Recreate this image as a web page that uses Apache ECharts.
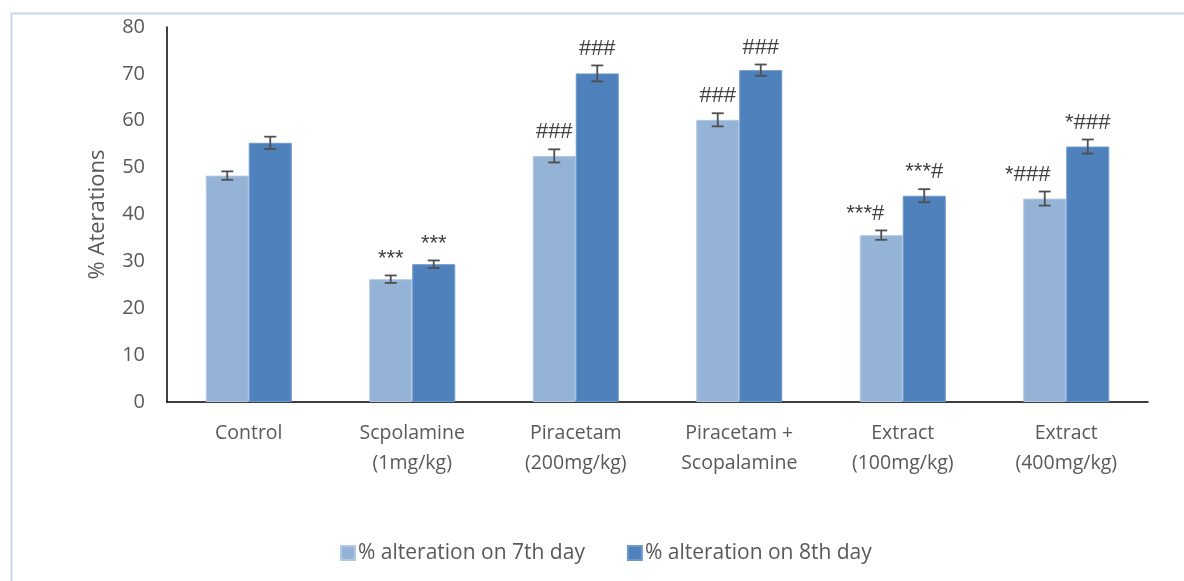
<!DOCTYPE html>
<html>
<head>
<meta charset="utf-8">
<script src="https://cdn.jsdelivr.net/npm/echarts@6/dist/echarts.min.js"></script>
<style>
html,body{margin:0;padding:0;background:#fff;}
#chart{width:1184px;height:581px;}
</style>
</head>
<body>
<div id="chart"></div>
<script>
const categories = ["Control", "Scpolamine\n(1mg/kg)", "Piracetam\n(200mg/kg)", "Piracetam +\nScopalamine", "Extract\n(100mg/kg)", "Extract\n(400mg/kg)"];
const seriesNames = ["% alteration on 7th day", "% alteration on 8th day"];
const day7 = [48.3, 26.2, 52.5, 60.2, 35.6, 43.4];
const day8 = [55.3, 29.4, 70.1, 70.8, 44.0, 54.5];
const day7Err = [0.9, 0.8, 1.4, 1.4, 1.0, 1.5];
const day8Err = [1.3, 0.8, 1.7, 1.2, 1.4, 1.5];
const day7Sig = ["", "***", "###", "###", "***#", "*###"];
const day8Sig = ["", "***", "###", "###", "***#", "*###"];
const yTicks = [0, 10, 20, 30, 40, 50, 60, 70, 80];

const colors = ['#95b3d7', '#4f81bd'];
const catGap = 0.474;
// horizontal nudge of significance labels (layout only), per series per category
const sigShift = [[0, 0, 0, 0, -16, -17], [0, 0, 0, 0, 0, 0]];

function errSeries(seriesIdx, vals, errs, sigs) {
  return {
    type: 'custom',
    z: 10,
    silent: true,
    data: vals.map((v, i) => [i, v, errs[i], sigs[i]]),
    encode: { x: 0, y: 1 },
    renderItem: function (params, api) {
      const idx = api.value(0);
      const v = api.value(1);
      const e = api.value(2);
      const sig = sigs[idx];
      const c = api.coord([idx, v]);
      const band = api.size([1, 0])[0];
      const bw = band * (1 - catGap) / 2;
      const cx = c[0] + (seriesIdx === 0 ? -bw / 2 : bw / 2);
      const yTop = api.coord([idx, v + e])[1];
      const yBot = api.coord([idx, v - e])[1];
      const cap = 6;
      const ls = { stroke: '#505050', lineWidth: 1.8 };
      const children = [
        { type: 'line', shape: { x1: cx, y1: yTop, x2: cx, y2: yBot }, style: ls },
        { type: 'line', shape: { x1: cx - cap, y1: yTop, x2: cx + cap, y2: yTop }, style: ls },
        { type: 'line', shape: { x1: cx - cap, y1: yBot, x2: cx + cap, y2: yBot }, style: ls }
      ];
      if (sig) {
        children.push({
          type: 'text',
          style: {
            text: sig,
            x: cx + sigShift[seriesIdx][idx],
            y: yTop - 6,
            align: 'center',
            verticalAlign: 'bottom',
            fontFamily: 'Liberation Sans',
            fontSize: 22,
            fill: '#404040'
          }
        });
      }
      return { type: 'group', children: children };
    }
  };
}

const chart = echarts.init(document.getElementById('chart'));
chart.setOption({
  animation: false,
  backgroundColor: '#ffffff',
  textStyle: { fontFamily: 'Open Sans' },
  graphic: [{
    type: 'rect',
    left: 9, top: 11,
    shape: { width: 1200, height: 620 },
    style: { fill: 'none', stroke: '#c6d6ec', lineWidth: 2 },
    silent: true
  }],
  grid: { left: 167, right: 36, top: 27, bottom: 179, containLabel: false },
  legend: {
    data: seriesNames,
    left: 335,
    top: 537,
    itemWidth: 14,
    itemHeight: 14,
    itemGap: 42,
    icon: 'rect',
    textStyle: { color: '#595959', fontSize: 21, fontFamily: 'Open Sans', lineHeight: 22, padding: [0, 0, 0, -2] }
  },
  xAxis: {
    type: 'category',
    data: categories,
    axisLine: { lineStyle: { color: '#000', width: 1.5 } },
    axisTick: { show: false },
    axisLabel: { color: '#595959', fontSize: 19.5, lineHeight: 30, margin: 16, interval: 0, fontFamily: 'Open Sans' }
  },
  yAxis: {
    type: 'value',
    min: yTicks[0],
    max: yTicks[yTicks.length - 1],
    interval: 10,
    name: '% Aterations',
    nameLocation: 'middle',
    nameGap: 58,
    nameRotate: 90,
    nameTextStyle: { color: '#595959', fontSize: 22, fontFamily: 'Open Sans' },
    axisLine: { show: true, lineStyle: { color: '#000', width: 1.5 } },
    axisTick: { show: false },
    splitLine: { show: false },
    axisLabel: { color: '#595959', fontSize: 20, margin: 22, fontFamily: 'Open Sans' }
  },
  series: [
    {
      name: seriesNames[0], type: 'bar', data: day7, barGap: '0%', barCategoryGap: (catGap * 100) + '%',
      itemStyle: { color: colors[0], borderColor: '#b3c8e2', borderWidth: 1 }
    },
    {
      name: seriesNames[1], type: 'bar', data: day8, barGap: '0%', barCategoryGap: (catGap * 100) + '%',
      itemStyle: { color: colors[1], borderColor: '#6e98cb', borderWidth: 1 }
    },
    errSeries(0, day7, day7Err, day7Sig),
    errSeries(1, day8, day8Err, day8Sig)
  ]
});
</script>
</body>
</html>
